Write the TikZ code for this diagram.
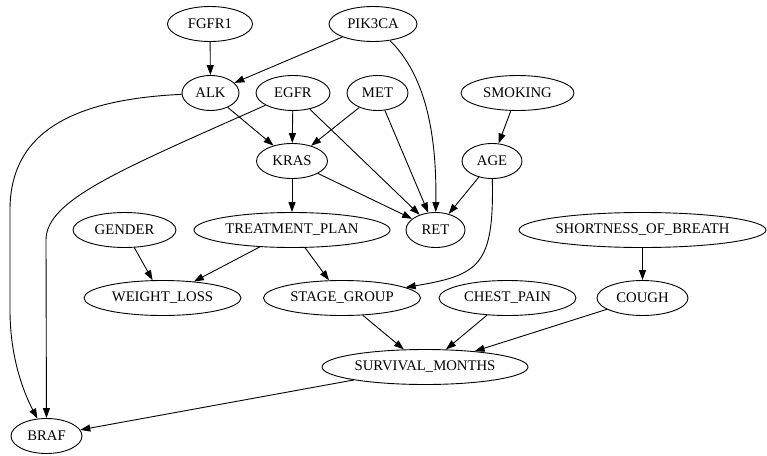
\documentclass[tikz,border=0pt]{standalone}
\usepackage{fontspec}
\setmainfont{Liberation Serif}
\usetikzlibrary{shapes.geometric}
\usetikzlibrary{arrows.meta}

\begin{document}
\begin{tikzpicture}[x=1pt,y=-1pt,
    var/.style={ellipse,draw,line width=0.9pt,inner sep=0pt,
        minimum height=35pt,font=\fontsize{14.7}{17}\selectfont},
    edge/.style={line width=0.9pt,-{Triangle[length=10pt,width=7pt]}}]
\useasboundingbox (0,0) rectangle (767,455);
\def\ra{24}
\def\rb{93}
\def\rc{161}
\def\rd{230}
\def\re{298}
\def\rf{367}
\def\rg{436}

\node[var,minimum width=85pt] (FGFR1) at (210,\ra) {FGFR1};
\node[var,minimum width=88pt] (PIK3CA) at (373,\ra) {PIK3CA};
\node[var,minimum width=57pt] (ALK) at (210.5,\rb) {ALK};
\node[var,minimum width=74pt] (EGFR) at (293,\rb) {EGFR};
\node[var,minimum width=61pt] (MET) at (377.5,\rb) {MET};
\node[var,minimum width=113pt] (SMOKING) at (517.5,\rb) {SMOKING};
\node[var,minimum width=71pt] (KRAS) at (292,\rc) {KRAS};
\node[var,minimum width=60pt] (AGE) at (492,\rc) {AGE};
\node[var,minimum width=103pt] (GENDER) at (124.5,\rd) {GENDER};
\node[var,minimum width=196pt] (TPLAN) at (292,\rd) {TREATMENT\_PLAN};
\node[var,minimum width=59pt] (RET) at (435.5,\rd) {RET};
\node[var,minimum width=247pt] (SOB) at (642.5,\rd) {SHORTNESS\_OF\_BREATH};
\node[var,minimum width=157pt] (WLOSS) at (162.5,\re) {WEIGHT\_LOSS};
\node[var,minimum width=157pt] (SGROUP) at (342,\re) {STAGE\_GROUP};
\node[var,minimum width=137pt] (CPAIN) at (507.5,\re) {CHEST\_PAIN};
\node[var,minimum width=91pt] (COUGH) at (642.5,\re) {COUGH};
\node[var,minimum width=206pt] (SURV) at (425,\rf) {SURVIVAL\_MONTHS};
\node[var,minimum width=71pt] (BRAF) at (46.5,\rg) {BRAF};

\foreach \a/\b in {FGFR1/ALK,PIK3CA/ALK,ALK/KRAS,EGFR/KRAS,MET/KRAS,
    EGFR/RET,MET/RET,KRAS/RET,SMOKING/AGE,AGE/RET,KRAS/TPLAN,
    GENDER/WLOSS,TPLAN/WLOSS,TPLAN/SGROUP,SOB/COUGH,
    SGROUP/SURV,CPAIN/SURV,COUGH/SURV,SURV/BRAF}{
    \draw[edge] (\a) -- (\b);
}
% curved edges
\draw[edge] (PIK3CA) .. controls (420,70) and (437,120) .. (RET);
\draw[edge] (AGE) .. controls (494,265) and (480,275) .. (SGROUP);
\draw[edge] (ALK) .. controls (60,100) and (10,140) .. (10,210)
    -- (10,310) .. controls (10,360) and (25,395) .. (BRAF);
\draw[edge] (EGFR) .. controls (120,170) and (46,200) .. (46,240) -- (BRAF);
\end{tikzpicture}
\end{document}
